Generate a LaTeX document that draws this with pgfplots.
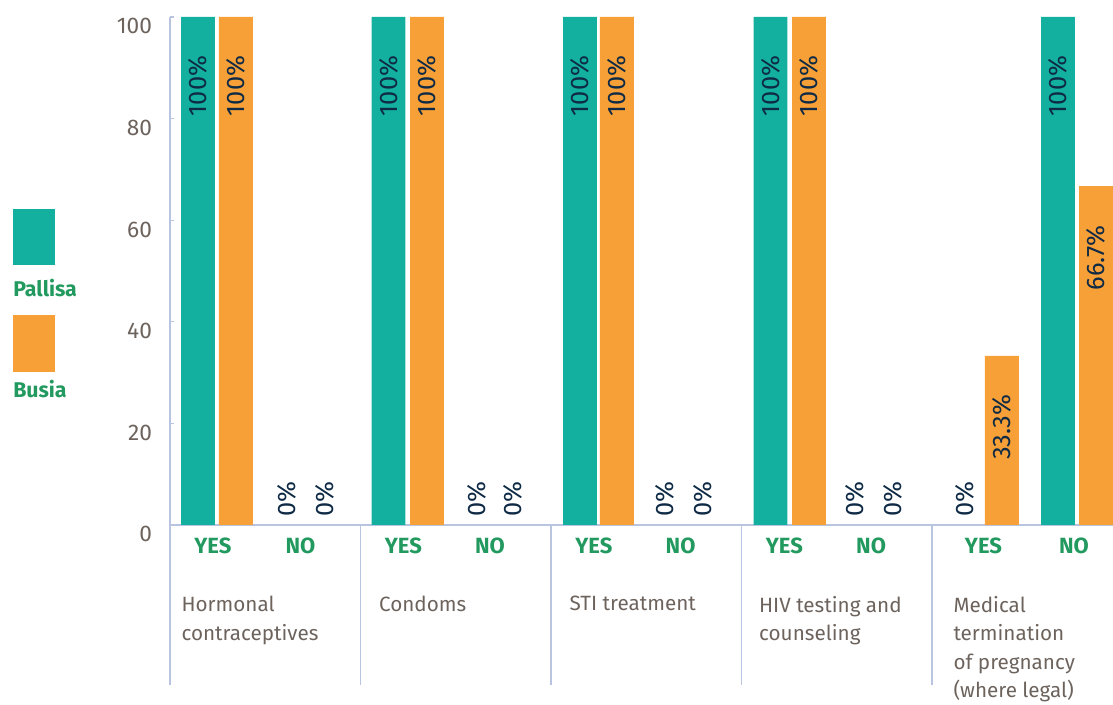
\documentclass[border=0pt]{standalone}
\usepackage{fontspec}
\setmainfont{Fira Sans}
\usepackage{pgfplots}
\pgfplotsset{compat=1.18}
\definecolor{pall}{HTML}{13B0A0}
\definecolor{bus}{HTML}{F7A037}
\definecolor{grn}{HTML}{22995F}
\definecolor{axcol}{HTML}{B9C5E0}
\definecolor{tickcol}{HTML}{6D635D}
\definecolor{valcol}{HTML}{0E2A45}
\newcommand\yn[1]{\textcolor{grn}{\fontsize{16.5}{20}\selectfont\bfseries #1}}
\begin{document}
\begin{tikzpicture}
\path[use as bounding box] (-127.5pt,-135pt) rectangle (707.25pt,393.75pt);
\begin{axis}[
  at={(0pt,0pt)}, anchor=south west,
  scale only axis, width=707.25pt, height=381pt,
  xmin=0, xmax=4.950, ymin=0, ymax=100,
  axis x line=bottom, axis y line=left,
  axis line style={draw=axcol, line width=0.9pt, -},
  ytick={0,20,40,60,80,100},
  major tick length=3pt, tick align=inside,
  ytick style={draw=axcol, line width=0.9pt},
  yticklabel style={font=\fontsize{17}{20}\selectfont, text=tickcol, yshift=-7pt, xshift=-10pt},
  xtick={0.225,0.685,1.225,1.68,2.225,2.68,3.225,3.68,4.27,4.745},
  xticklabels={\yn{YES},\yn{NO},\yn{YES},\yn{NO},\yn{YES},\yn{NO},\yn{YES},\yn{NO},\yn{YES},\yn{NO}},
  xtick style={draw=none},
  xticklabel style={font=\fontsize{15.5}{21.3}\selectfont, text=tickcol, yshift=-3pt},
  extra x ticks={0.036,1.073,2.073,3.068,4.088},
  extra x tick labels={Hormonal\\contraceptives,Condoms,STI treatment,HIV testing and\\counseling,Medical\\termination\\of pregnancy\\(where legal)},
  extra x tick style={tick style={draw=none}, tick label style={anchor=north west, align=left, yshift=-44pt}},
  ybar, bar width=0.178,
  clip=false,
  /pgf/number format/assume math mode=true,
  nodes near coords={\pgfmathprintnumber[fixed,precision=1]{\pgfplotspointmeta}\%},
]
\addplot[fill=pall, draw=none, bar shift=0pt,
  nodes near coords style={font=\fontsize{19}{22}\selectfont, text=valcol, inner sep=0pt, yshift=-29pt, rotate=90, anchor=east}]
  coordinates {(0.147,100) (1.147,100) (2.152,100) (3.152,100) (4.661,100)};
\addplot[fill=none, draw=none, bar shift=0pt,
  nodes near coords style={font=\fontsize{19}{22}\selectfont, text=valcol, inner sep=0pt, yshift=6pt, rotate=90, anchor=west}]
  coordinates {(0.614,0) (1.612,0) (2.598,0) (3.596,0) (4.173,0)};
\addplot[fill=bus, draw=none, bar shift=0pt,
  nodes near coords style={font=\fontsize{19}{22}\selectfont, text=valcol, inner sep=0pt, yshift=-29pt, rotate=90, anchor=east}]
  coordinates {(0.346,100) (1.349,100) (2.346,100) (3.354,100) (4.367,33.3) (4.861,66.7)};
\addplot[fill=none, draw=none, bar shift=0pt,
  nodes near coords style={font=\fontsize{19}{22}\selectfont, text=valcol, inner sep=0pt, yshift=6pt, rotate=90, anchor=west}]
  coordinates {(0.814,0) (1.801,0) (2.798,0) (3.795,0)};
\draw[axcol, line width=0.9pt] (axis cs:0,0) -- ++(0pt,-120pt);
\draw[axcol, line width=0.9pt] (axis cs:1,0) -- ++(0pt,-120pt);
\draw[axcol, line width=0.9pt] (axis cs:2,0) -- ++(0pt,-120pt);
\draw[axcol, line width=0.9pt] (axis cs:3,0) -- ++(0pt,-120pt);
\draw[axcol, line width=0.9pt] (axis cs:4,0) -- ++(0pt,-120pt);
\end{axis}
\fill[pall] (-117.75pt,195pt) rectangle (-86.25pt,237pt);
\node[anchor=base west, inner sep=0pt, text=grn, font=\fontsize{16}{19}\selectfont\bfseries] at (-117.75pt,171pt) {Pallisa};
\fill[bus] (-117.75pt,114.75pt) rectangle (-86.25pt,157.5pt);
\node[anchor=base west, inner sep=0pt, text=grn, font=\fontsize{16}{19}\selectfont\bfseries] at (-117.75pt,95.25pt) {Busia};
\end{tikzpicture}
\end{document}
